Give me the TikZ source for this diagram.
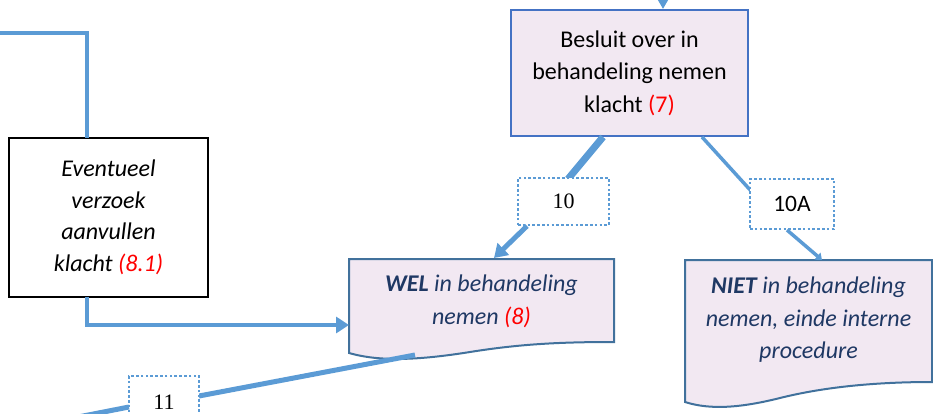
\documentclass[tikz,border=0pt]{standalone}
\usepackage{fontspec}
\setmainfont{Carlito}
\newfontfamily\labserif{Liberation Serif}
\usetikzlibrary{arrows.meta}
\definecolor{connc}{HTML}{5B9BD5}
\definecolor{bordA}{HTML}{4472C4}
\definecolor{bordB}{HTML}{41719C}
\definecolor{fillL}{HTML}{F2E8F2}
\definecolor{navyc}{HTML}{1F3864}
\begin{document}
\begin{tikzpicture}[x=1pt,y=-1pt,
  conn/.style={draw=connc,line width=#1},
  conn/.default=3.5pt,
  bigtip/.style={-{Triangle[width=16pt,length=13pt]}},
  smalltip/.style={-{Triangle[width=9pt,length=6pt]}},
  mainbox/.style={rectangle,draw=bordA,line width=2pt,fill=fillL,align=center,
    font=\fontsize{24}{32.5}\selectfont},
  blackbox/.style={rectangle,draw=black,line width=2pt,fill=white,align=center,
    font=\fontsize{24}{31.5}\selectfont\itshape},
  doctext/.style={rectangle,align=center,text=navyc,
    font=\fontsize{24}{32.5}\selectfont\itshape},
  docshape/.style={draw=bordB,line width=2pt,fill=fillL},
  lab/.style={rectangle,draw=connc,line width=2.6pt,dash pattern=on 2.6pt off 2.2pt,
    fill=white,align=center}]
\useasboundingbox (0,0) rectangle (933,414);

% document shapes
\draw[docshape] (349,259) -- (614,259) -- (614,342)
  .. controls (560,342) and (520,344) .. (470,352)
  .. controls (420,360) and (380,362) .. (349,353) -- cycle;
\draw[docshape] (685,260) -- (932,260) -- (932,382)
  .. controls (870,382) and (820,388) .. (780,398)
  .. controls (740,408) and (710,410) .. (685,402) -- cycle;

% nodes
\node[mainbox,minimum width=237pt,minimum height=126pt] (besluit) at (629.5,73)
  {Besluit over in\\behandeling nemen\\klacht \textcolor{red}{(7)}};
\node[blackbox,minimum width=199pt,minimum height=159pt] (evt) at (108.5,217.5)
  {Eventueel\\verzoek\\aanvullen\\klacht \textcolor{red}{(8.1)}};
\node[doctext,minimum width=265pt,minimum height=83pt] (wel) at (481.5,301.5)
  {\textbf{WEL} in behandeling\\nemen \textcolor{red}{(8)}};
\node[doctext,minimum width=247pt,minimum height=100pt] (niet) at (808.5,320)
  {\textbf{NIET} in behandeling\\nemen, einde interne\\procedure};

% contact points
\coordinate (topin) at (663,-4);
\coordinate (bes10) at (603,137);
\coordinate (bes10A) at (702,137);
\coordinate (welin) at (494,258);
\coordinate (nietin) at (822,260);
\coordinate (welout) at (415,355);
\coordinate (leftin) at (0,33);
\coordinate (leftout) at (78,417);
\coordinate (evttop) at (87,138);
\coordinate (evtbot) at (87,297);
\coordinate (welleft) at (349,325);

% connectors with labels
\draw[conn=7pt] (bes10) -- (568,179);
\node[lab,minimum width=91pt,minimum height=47pt,font=\labserif\fontsize{22}{22}\selectfont] (l10) at (563.5,201.5) {10};
\draw[conn=5pt,bigtip] (527,226) -- (welin);

\draw[conn=3.5pt] (bes10A) -- (752,192);
\node[lab,minimum width=84pt,minimum height=50pt,font=\fontsize{23.5}{23.5}\selectfont] (l10A) at (792,204) {10A};
\draw[conn=3.5pt,smalltip] (787,230) -- (nietin);

\draw[conn=5pt] (welout) -- (199,396);
\node[lab,minimum width=70pt,minimum height=52pt,font=\labserif\fontsize{22}{22}\selectfont] (l11) at (164,402) {11};
\draw[conn=5pt] (129,407) -- (leftout);

% other connectors
\draw[conn=3pt,-{Triangle[width=14pt,length=13pt]}] (topin) -- (besluit.north -| topin);
\draw[conn=3.5pt] (leftin) -| (evttop);
\draw[conn=3.5pt,bigtip] (evtbot) |- (welleft);
\end{tikzpicture}
\end{document}
